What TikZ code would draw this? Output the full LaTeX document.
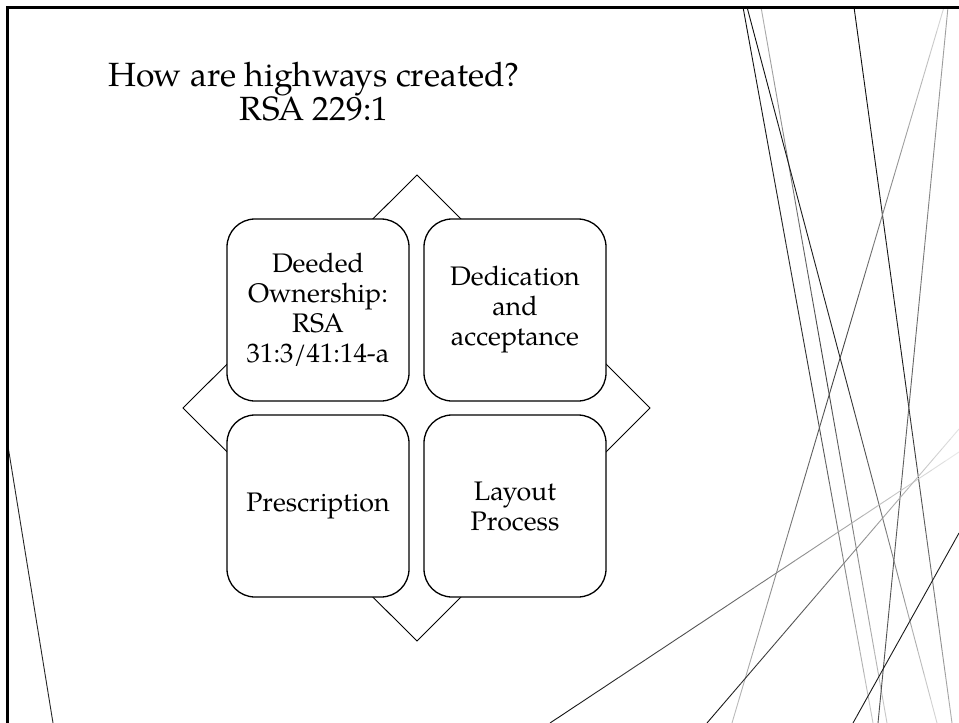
\documentclass[tikz,border=0pt]{standalone}
\usepackage{fontspec}
\setmainfont{TeX Gyre Pagella}
\newcommand\fadeline[7]{%
  \foreach \k in {0,...,29}{%
    \pgfmathsetmacro\ta{\k/30}%
    \pgfmathsetmacro\tb{(\k+1)/30}%
    \pgfmathsetmacro\tm{(\k+0.5)/30}%
    \pgfmathsetmacro\g{\tm<0.5 ? #5+(#6-#5)*\tm*2 : #6+(#7-#6)*(\tm-0.5)*2}%
    \draw[deco, color=black!\g] ({#1+(#3-#1)*\ta},{#2+(#4-#2)*\ta}) -- ({#1+(#3-#1)*\tb},{#2+(#4-#2)*\tb});
  }}
\begin{document}
\begin{tikzpicture}[x=1pt,y=-1pt,
  deco/.style={line width=0.9pt},
  cell/.style={draw=black, line width=1.3pt, fill=white, rounded corners=28pt,
    minimum width=182pt, minimum height=182pt, align=center, inner sep=0pt,
    font=\fontsize{26.8}{30}\selectfont},
  titletext/.style={font=\fontsize{33.6}{36}\selectfont, anchor=base}]
\useasboundingbox (0,0) rectangle (959,723);
\fill[white] (0,0) rectangle (959,723);
% decorative lines
\fadeline{743}{7}{873}{723}{95}{80}{20}
\fadeline{761}{7}{887}{723}{30}{75}{20}
\fadeline{747}{7}{937}{723}{95}{85}{15}
\fadeline{854}{7}{952}{723}{95}{90}{30}
\fadeline{948}{7}{878}{723}{35}{60}{70}
\fadeline{944}{7}{732}{723}{15}{75}{25}
\fadeline{959}{452}{550}{723}{8}{55}{95}
\fadeline{959}{429}{707}{723}{10}{55}{95}
\fadeline{959}{533}{853}{723}{90}{90}{90}
\draw[deco, black!85] (7,440) -- (53,723);
% frame
\draw[line width=3pt] (7,723) -- (7,7) -- (959,7);
% diamond
\coordinate (dt) at (417,175);
\coordinate (dr) at (650,408);
\coordinate (db) at (417,641);
\coordinate (dl) at (183,408);
\draw[line width=0.9pt] (dt) -- (dr) -- (db) -- (dl) -- cycle;
% cells
\node[cell] (deeded) at (318,310) {Deeded\\Ownership:\\RSA\\31:3/41:14-a};
\node[cell] (dedic) at (515,310) {Dedication\\and\\acceptance};
\node[cell] (presc) at (318,506) {Prescription};
\node[cell] (layout) at (515,506) {Layout\\Process};
% title
\node[titletext] (t1) at (314,86) {How are highways created?};
\node[titletext] (t2) at (314,120) {RSA 229:1};
\end{tikzpicture}
\end{document}
